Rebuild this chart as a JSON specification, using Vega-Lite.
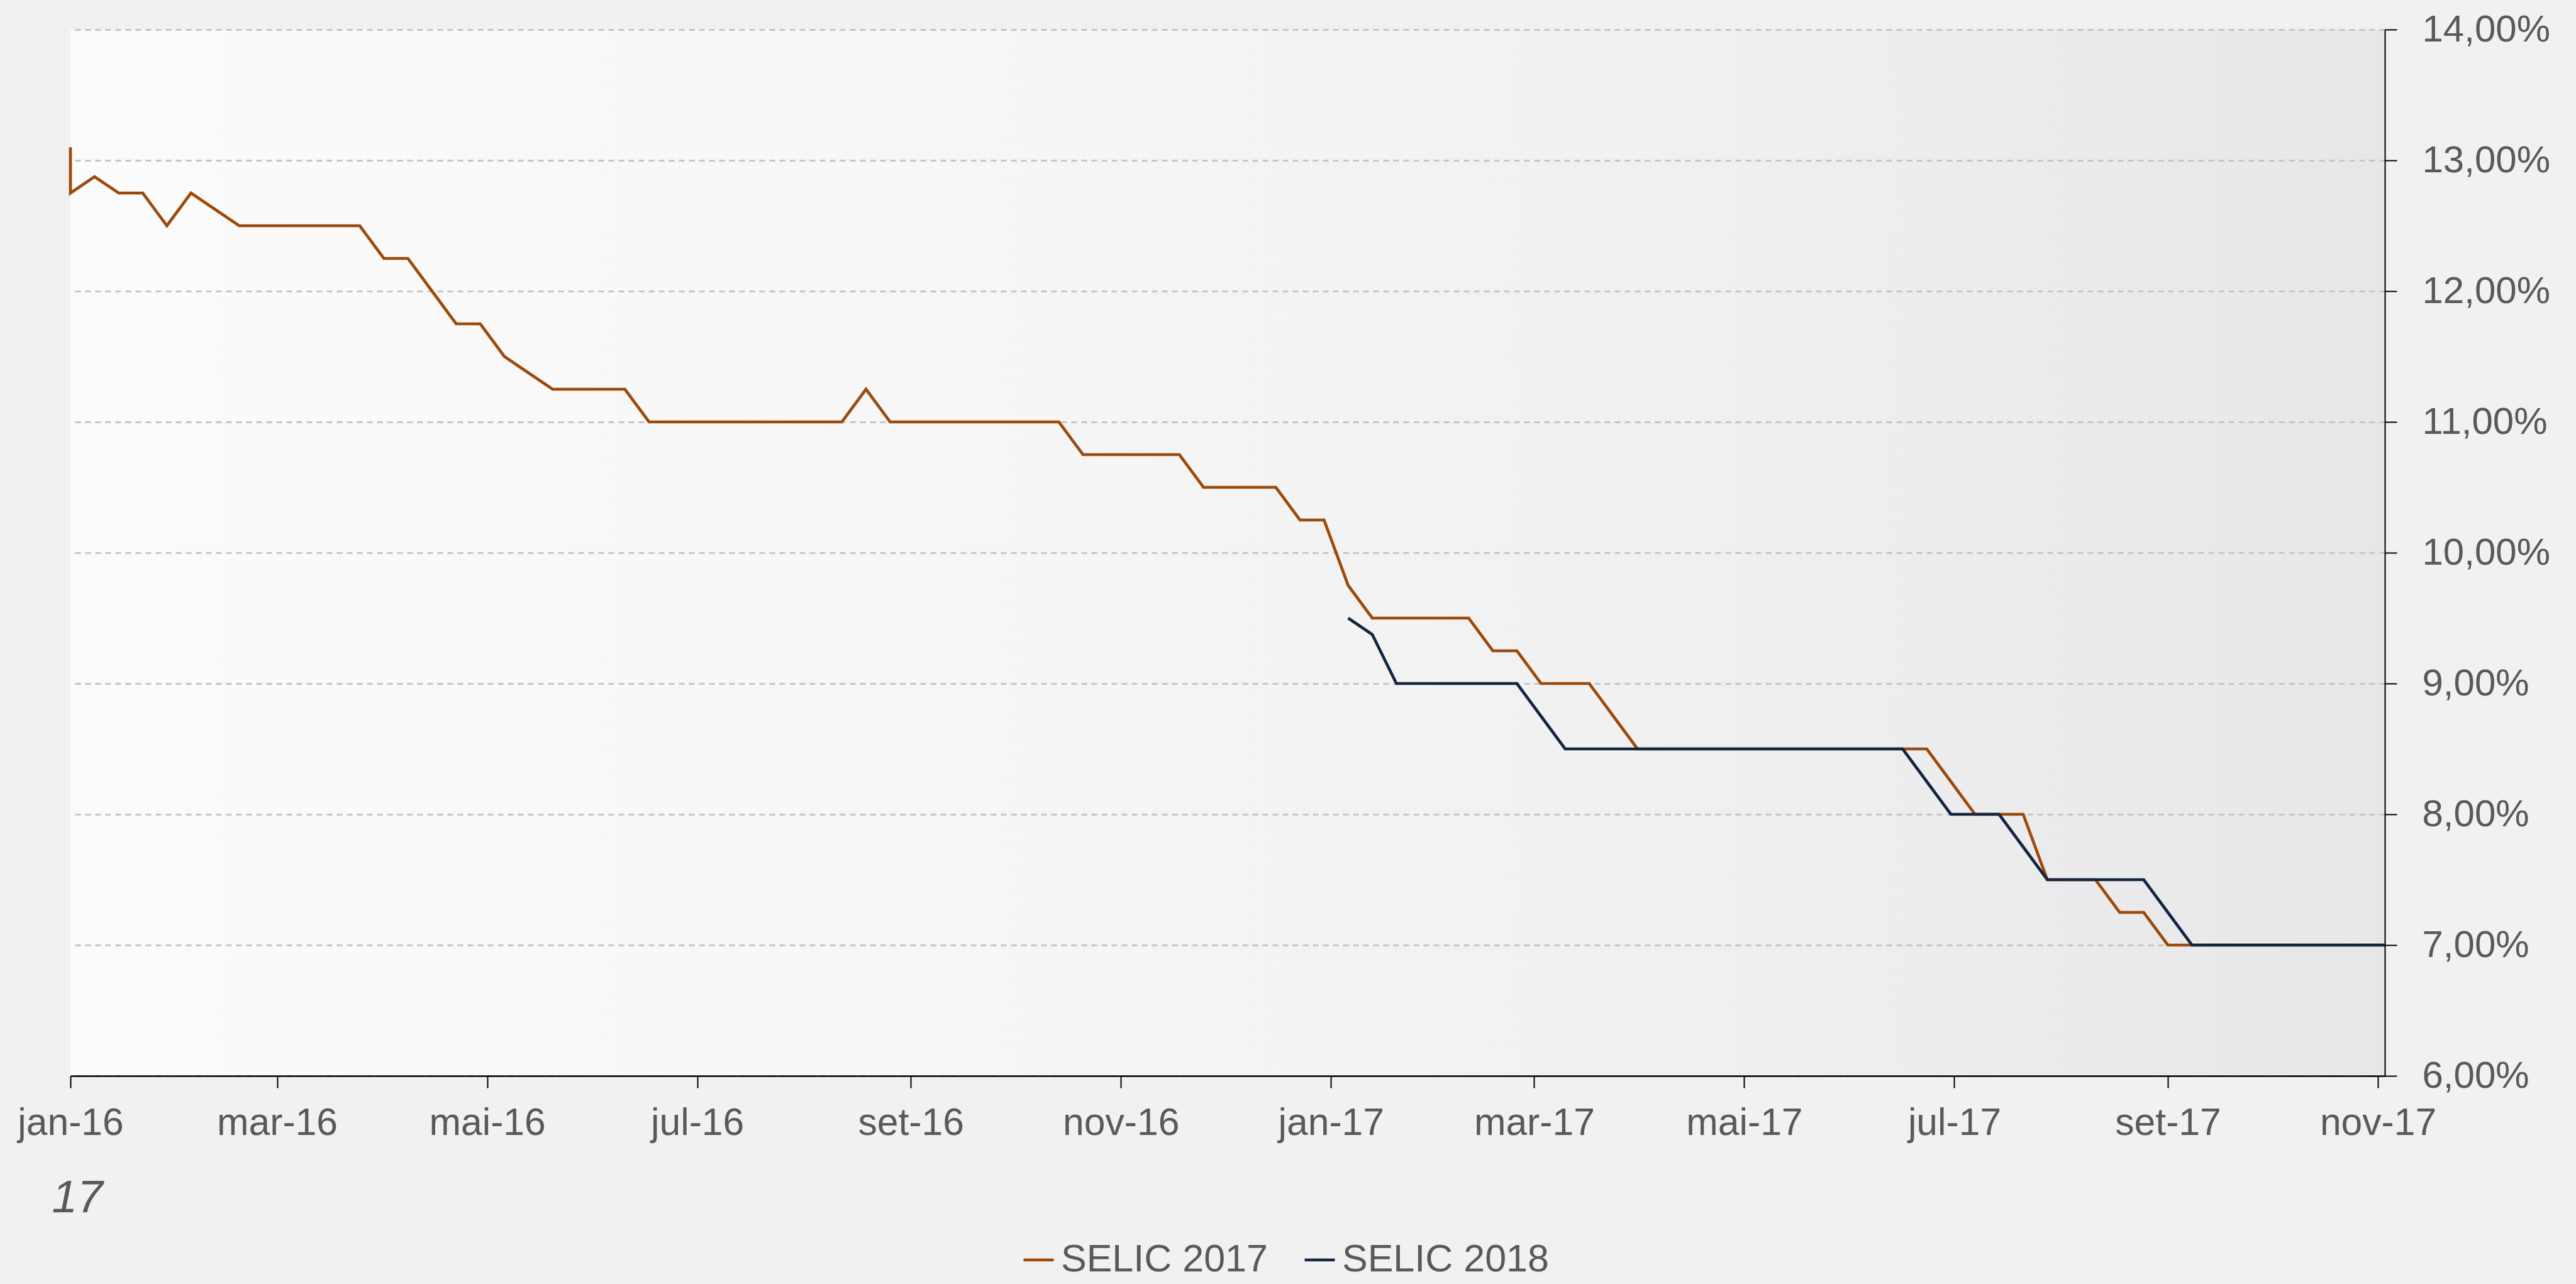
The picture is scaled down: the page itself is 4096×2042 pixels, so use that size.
{
  "$schema": "https://vega.github.io/schema/vega-lite/v6.json",
  "width": 3680,
  "height": 1664,
  "autosize": "none",
  "padding": {"left": 112, "top": 47, "right": 304, "bottom": 331},
  "background": "#f1f1f2",
  "config": {
    "font": "Liberation Sans",
    "view": {
      "stroke": null,
      "fill": {"gradient": "linear", "x1": 0, "y1": 0, "x2": 1, "y2": 0,
        "stops": [
          {"offset": 0, "color": "#fbfbfb"},
          {"offset": 0.4, "color": "#f6f6f7"},
          {"offset": 0.7, "color": "#f0f0f1"},
          {"offset": 1, "color": "#e7e7e9"}
        ]}
    }
  },
  "data": {"values": [
    {"d":"2016-01-01","v":13.1,"s":"SELIC 2017"},
    {"d":"2016-01-01","v":12.75,"s":"SELIC 2017"},
    {"d":"2016-01-08","v":12.875,"s":"SELIC 2017"},
    {"d":"2016-01-15","v":12.75,"s":"SELIC 2017"},
    {"d":"2016-01-22","v":12.75,"s":"SELIC 2017"},
    {"d":"2016-01-29","v":12.5,"s":"SELIC 2017"},
    {"d":"2016-02-05","v":12.75,"s":"SELIC 2017"},
    {"d":"2016-02-12","v":12.625,"s":"SELIC 2017"},
    {"d":"2016-02-19","v":12.5,"s":"SELIC 2017"},
    {"d":"2016-02-26","v":12.5,"s":"SELIC 2017"},
    {"d":"2016-03-04","v":12.5,"s":"SELIC 2017"},
    {"d":"2016-03-11","v":12.5,"s":"SELIC 2017"},
    {"d":"2016-03-18","v":12.5,"s":"SELIC 2017"},
    {"d":"2016-03-25","v":12.5,"s":"SELIC 2017"},
    {"d":"2016-04-01","v":12.25,"s":"SELIC 2017"},
    {"d":"2016-04-08","v":12.25,"s":"SELIC 2017"},
    {"d":"2016-04-15","v":12.0,"s":"SELIC 2017"},
    {"d":"2016-04-22","v":11.75,"s":"SELIC 2017"},
    {"d":"2016-04-29","v":11.75,"s":"SELIC 2017"},
    {"d":"2016-05-06","v":11.5,"s":"SELIC 2017"},
    {"d":"2016-05-13","v":11.375,"s":"SELIC 2017"},
    {"d":"2016-05-20","v":11.25,"s":"SELIC 2017"},
    {"d":"2016-05-27","v":11.25,"s":"SELIC 2017"},
    {"d":"2016-06-03","v":11.25,"s":"SELIC 2017"},
    {"d":"2016-06-10","v":11.25,"s":"SELIC 2017"},
    {"d":"2016-06-17","v":11.0,"s":"SELIC 2017"},
    {"d":"2016-06-24","v":11.0,"s":"SELIC 2017"},
    {"d":"2016-07-01","v":11.0,"s":"SELIC 2017"},
    {"d":"2016-07-08","v":11.0,"s":"SELIC 2017"},
    {"d":"2016-07-15","v":11.0,"s":"SELIC 2017"},
    {"d":"2016-07-22","v":11.0,"s":"SELIC 2017"},
    {"d":"2016-07-29","v":11.0,"s":"SELIC 2017"},
    {"d":"2016-08-05","v":11.0,"s":"SELIC 2017"},
    {"d":"2016-08-12","v":11.0,"s":"SELIC 2017"},
    {"d":"2016-08-19","v":11.25,"s":"SELIC 2017"},
    {"d":"2016-08-26","v":11.0,"s":"SELIC 2017"},
    {"d":"2016-09-02","v":11.0,"s":"SELIC 2017"},
    {"d":"2016-09-09","v":11.0,"s":"SELIC 2017"},
    {"d":"2016-09-16","v":11.0,"s":"SELIC 2017"},
    {"d":"2016-09-23","v":11.0,"s":"SELIC 2017"},
    {"d":"2016-09-30","v":11.0,"s":"SELIC 2017"},
    {"d":"2016-10-07","v":11.0,"s":"SELIC 2017"},
    {"d":"2016-10-14","v":11.0,"s":"SELIC 2017"},
    {"d":"2016-10-21","v":10.75,"s":"SELIC 2017"},
    {"d":"2016-10-28","v":10.75,"s":"SELIC 2017"},
    {"d":"2016-11-04","v":10.75,"s":"SELIC 2017"},
    {"d":"2016-11-11","v":10.75,"s":"SELIC 2017"},
    {"d":"2016-11-18","v":10.75,"s":"SELIC 2017"},
    {"d":"2016-11-25","v":10.5,"s":"SELIC 2017"},
    {"d":"2016-12-02","v":10.5,"s":"SELIC 2017"},
    {"d":"2016-12-09","v":10.5,"s":"SELIC 2017"},
    {"d":"2016-12-16","v":10.5,"s":"SELIC 2017"},
    {"d":"2016-12-23","v":10.25,"s":"SELIC 2017"},
    {"d":"2016-12-30","v":10.25,"s":"SELIC 2017"},
    {"d":"2017-01-06","v":9.75,"s":"SELIC 2017"},
    {"d":"2017-01-13","v":9.5,"s":"SELIC 2017"},
    {"d":"2017-01-20","v":9.5,"s":"SELIC 2017"},
    {"d":"2017-01-27","v":9.5,"s":"SELIC 2017"},
    {"d":"2017-02-03","v":9.5,"s":"SELIC 2017"},
    {"d":"2017-02-10","v":9.5,"s":"SELIC 2017"},
    {"d":"2017-02-17","v":9.25,"s":"SELIC 2017"},
    {"d":"2017-02-24","v":9.25,"s":"SELIC 2017"},
    {"d":"2017-03-03","v":9.0,"s":"SELIC 2017"},
    {"d":"2017-03-10","v":9.0,"s":"SELIC 2017"},
    {"d":"2017-03-17","v":9.0,"s":"SELIC 2017"},
    {"d":"2017-03-24","v":8.75,"s":"SELIC 2017"},
    {"d":"2017-03-31","v":8.5,"s":"SELIC 2017"},
    {"d":"2017-04-07","v":8.5,"s":"SELIC 2017"},
    {"d":"2017-04-14","v":8.5,"s":"SELIC 2017"},
    {"d":"2017-04-21","v":8.5,"s":"SELIC 2017"},
    {"d":"2017-04-28","v":8.5,"s":"SELIC 2017"},
    {"d":"2017-05-05","v":8.5,"s":"SELIC 2017"},
    {"d":"2017-05-12","v":8.5,"s":"SELIC 2017"},
    {"d":"2017-05-19","v":8.5,"s":"SELIC 2017"},
    {"d":"2017-05-26","v":8.5,"s":"SELIC 2017"},
    {"d":"2017-06-02","v":8.5,"s":"SELIC 2017"},
    {"d":"2017-06-09","v":8.5,"s":"SELIC 2017"},
    {"d":"2017-06-16","v":8.5,"s":"SELIC 2017"},
    {"d":"2017-06-23","v":8.5,"s":"SELIC 2017"},
    {"d":"2017-06-30","v":8.25,"s":"SELIC 2017"},
    {"d":"2017-07-07","v":8.0,"s":"SELIC 2017"},
    {"d":"2017-07-14","v":8.0,"s":"SELIC 2017"},
    {"d":"2017-07-21","v":8.0,"s":"SELIC 2017"},
    {"d":"2017-07-28","v":7.5,"s":"SELIC 2017"},
    {"d":"2017-08-04","v":7.5,"s":"SELIC 2017"},
    {"d":"2017-08-11","v":7.5,"s":"SELIC 2017"},
    {"d":"2017-08-18","v":7.25,"s":"SELIC 2017"},
    {"d":"2017-08-25","v":7.25,"s":"SELIC 2017"},
    {"d":"2017-09-01","v":7.0,"s":"SELIC 2017"},
    {"d":"2017-09-08","v":7.0,"s":"SELIC 2017"},
    {"d":"2017-09-15","v":7.0,"s":"SELIC 2017"},
    {"d":"2017-09-22","v":7.0,"s":"SELIC 2017"},
    {"d":"2017-09-29","v":7.0,"s":"SELIC 2017"},
    {"d":"2017-10-06","v":7.0,"s":"SELIC 2017"},
    {"d":"2017-10-13","v":7.0,"s":"SELIC 2017"},
    {"d":"2017-10-20","v":7.0,"s":"SELIC 2017"},
    {"d":"2017-10-27","v":7.0,"s":"SELIC 2017"},
    {"d":"2017-11-03","v":7.0,"s":"SELIC 2017"},
    {"d":"2017-01-06","v":9.5,"s":"SELIC 2018"},
    {"d":"2017-01-13","v":9.375,"s":"SELIC 2018"},
    {"d":"2017-01-20","v":9.0,"s":"SELIC 2018"},
    {"d":"2017-01-27","v":9.0,"s":"SELIC 2018"},
    {"d":"2017-02-03","v":9.0,"s":"SELIC 2018"},
    {"d":"2017-02-10","v":9.0,"s":"SELIC 2018"},
    {"d":"2017-02-17","v":9.0,"s":"SELIC 2018"},
    {"d":"2017-02-24","v":9.0,"s":"SELIC 2018"},
    {"d":"2017-03-03","v":8.75,"s":"SELIC 2018"},
    {"d":"2017-03-10","v":8.5,"s":"SELIC 2018"},
    {"d":"2017-03-17","v":8.5,"s":"SELIC 2018"},
    {"d":"2017-03-24","v":8.5,"s":"SELIC 2018"},
    {"d":"2017-03-31","v":8.5,"s":"SELIC 2018"},
    {"d":"2017-04-07","v":8.5,"s":"SELIC 2018"},
    {"d":"2017-04-14","v":8.5,"s":"SELIC 2018"},
    {"d":"2017-04-21","v":8.5,"s":"SELIC 2018"},
    {"d":"2017-04-28","v":8.5,"s":"SELIC 2018"},
    {"d":"2017-05-05","v":8.5,"s":"SELIC 2018"},
    {"d":"2017-05-12","v":8.5,"s":"SELIC 2018"},
    {"d":"2017-05-19","v":8.5,"s":"SELIC 2018"},
    {"d":"2017-05-26","v":8.5,"s":"SELIC 2018"},
    {"d":"2017-06-02","v":8.5,"s":"SELIC 2018"},
    {"d":"2017-06-09","v":8.5,"s":"SELIC 2018"},
    {"d":"2017-06-16","v":8.5,"s":"SELIC 2018"},
    {"d":"2017-06-23","v":8.25,"s":"SELIC 2018"},
    {"d":"2017-06-30","v":8.0,"s":"SELIC 2018"},
    {"d":"2017-07-07","v":8.0,"s":"SELIC 2018"},
    {"d":"2017-07-14","v":8.0,"s":"SELIC 2018"},
    {"d":"2017-07-21","v":7.75,"s":"SELIC 2018"},
    {"d":"2017-07-28","v":7.5,"s":"SELIC 2018"},
    {"d":"2017-08-04","v":7.5,"s":"SELIC 2018"},
    {"d":"2017-08-11","v":7.5,"s":"SELIC 2018"},
    {"d":"2017-08-18","v":7.5,"s":"SELIC 2018"},
    {"d":"2017-08-25","v":7.5,"s":"SELIC 2018"},
    {"d":"2017-09-01","v":7.25,"s":"SELIC 2018"},
    {"d":"2017-09-08","v":7.0,"s":"SELIC 2018"},
    {"d":"2017-09-15","v":7.0,"s":"SELIC 2018"},
    {"d":"2017-09-22","v":7.0,"s":"SELIC 2018"},
    {"d":"2017-09-29","v":7.0,"s":"SELIC 2018"},
    {"d":"2017-10-06","v":7.0,"s":"SELIC 2018"},
    {"d":"2017-10-13","v":7.0,"s":"SELIC 2018"},
    {"d":"2017-10-20","v":7.0,"s":"SELIC 2018"},
    {"d":"2017-10-27","v":7.0,"s":"SELIC 2018"},
    {"d":"2017-11-03","v":7.0,"s":"SELIC 2018"}
  ]},
  "mark": {"type": "line", "strokeWidth": 4.7},
  "encoding": {
    "x": {
      "field": "d", "type": "temporal",
      "scale": {"type": "utc", "domain": [1451606400000, 1509667200000], "nice": false},
      "axis": {
        "orient": "bottom",
        "title": "17",
        "titleX": -30, "titleY": 216,
        "titleAlign": "left", "titleAnchor": null, "titleAngle": 0,
        "titleBaseline": "alphabetic",
        "titleFontSize": 73, "titleFontStyle": "italic", "titleFontWeight": "normal",
        "titleColor": "#595959", "titleFont": "Liberation Sans",
        "values": [1451606400000, 1456790400000, 1462060800000, 1467331200000, 1472688000000, 1477958400000, 1483228800000, 1488326400000, 1493596800000, 1498867200000, 1504224000000, 1509494400000],
        "labelExpr": "['jan','fev','mar','abr','mai','jun','jul','ago','set','out','nov','dez'][utcmonth(datum.value)] + '-' + utcFormat(datum.value, '%y')",
        "grid": false,
        "domainColor": "#000000", "domainWidth": 2.5,
        "tickColor": "#000000", "tickWidth": 2, "tickSize": 19,
        "labelFontSize": 60.6, "labelColor": "#595959", "labelFont": "Liberation Sans",
        "labelPadding": 26, "labelFlush": false, "labelOverlap": false, "labelBound": false,
        "labelLimit": 0
      }
    },
    "y": {
      "field": "v", "type": "quantitative",
      "scale": {"domain": [6, 14], "nice": false, "zero": false},
      "axis": {
        "orient": "right", "title": null,
        "values": [6, 7, 8, 9, 10, 11, 12, 13, 14],
        "labelExpr": "replace(format(datum.value, '.2f'), '.', ',') + '%'",
        "grid": true, "gridColor": "#c6c6c6", "gridDash": [9, 7], "gridWidth": 2.8,
        "domainColor": "#000000", "domainWidth": 2,
        "tickColor": "#000000", "tickWidth": 2, "tickSize": 19,
        "labelFontSize": 60, "labelColor": "#595959", "labelFont": "Liberation Sans",
        "labelPadding": 40, "labelFlush": false, "labelOverlap": false,
        "labelLimit": 0
      }
    },
    "color": {
      "field": "s", "type": "nominal",
      "scale": {"domain": ["SELIC 2017", "SELIC 2018"], "range": ["#9c4a0b", "#13253f"]},
      "legend": {
        "title": null, "orient": "none", "legendX": 1509, "legendY": 1926,
        "direction": "horizontal", "symbolType": "stroke", "symbolSize": 2304,
        "symbolStrokeWidth": 4.7, "labelFontSize": 61, "labelColor": "#595959",
        "labelFont": "Liberation Sans", "labelOffset": 5, "columnPadding": 49,
        "padding": 0, "labelLimit": 0
      }
    }
  }
}
